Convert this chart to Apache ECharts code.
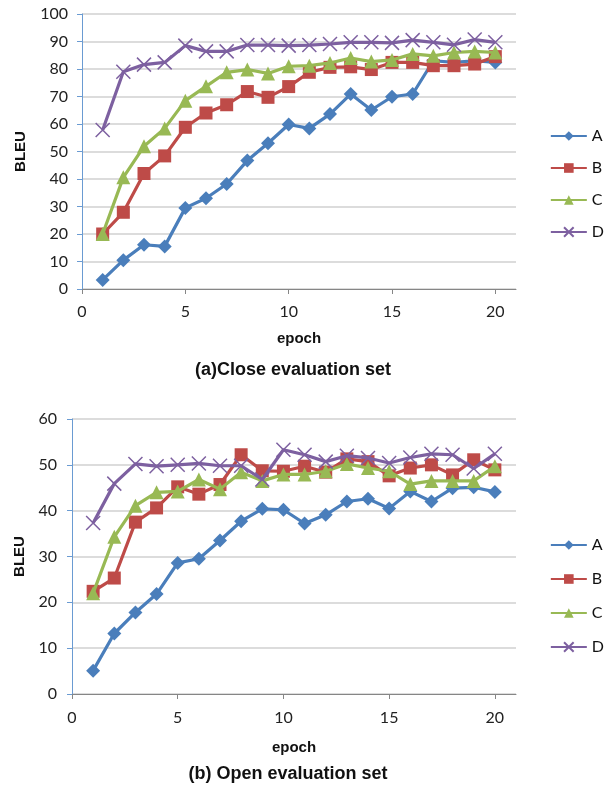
<!DOCTYPE html>
<html>
<head>
<meta charset="utf-8">
<title>BLEU per epoch</title>
<style>
  body, html, #chart {width: 613px; height: 785px; margin: 0; overflow: hidden; background: #fff;}
</style>
<script src="https://cdn.jsdelivr.net/npm/echarts@6/dist/echarts.min.js"></script>
</head>
<body>
<div id="chart"></div>
<script>
var epochs = [1,2,3,4,5,6,7,8,9,10,11,12,13,14,15,16,17,18,19,20];
var names = ['A', 'B', 'C', 'D'];

// (a) close evaluation set
var closeA = [3.3,10.5,16.1,15.5,29.5,33,38.2,46.7,53,59.8,58.4,63.6,70.9,65.1,69.9,70.9,83,82.4,83,82.4];
var closeB = [20,27.9,42,48.4,58.8,64,67,71.8,69.7,73.6,78.8,80.6,80.8,79.8,82.4,82.4,81.2,81.2,81.8,84.5];
var closeC = [20,40.6,51.9,58.4,68.5,73.7,78.8,79.8,78.4,81,81.2,82.2,84,82.7,83.3,85.5,84.8,86,86.4,86];
var closeD = [57.8,79,81.6,82.4,88.5,86.4,86.4,88.7,88.7,88.5,88.7,89.1,89.7,89.7,89.5,90.5,89.7,88.8,90.7,89.7];

// (b) open evaluation set
var openA = [5.1,13.2,17.8,21.8,28.6,29.5,33.5,37.7,40.4,40.2,37.2,39.1,42,42.6,40.5,44.2,42,44.9,45.1,44.1];
var openB = [22.4,25.3,37.5,40.6,45.2,43.6,45.7,52.2,48.7,48.6,49.7,48.4,51.3,50.7,47.6,49.3,50,47.8,51.1,48.9];
var openC = [22,34.3,41.1,44,44.2,46.8,44.7,48.4,46.5,47.9,47.9,48.6,50.2,49.3,48.6,45.8,46.5,46.5,46.5,49.7];
var openD = [37.3,45.9,50.2,49.7,50,50.3,49.8,49.8,46.8,53.3,52.2,50.7,52,51.5,50.4,51.6,52.4,52.2,49.2,52.4];

var colors = ['#4A7EBB', '#BE4B48', '#98B954', '#7D60A0'];
var symbols = ['diamond', 'rect', 'triangle', 'path://M0,0L10,10M10,0L0,10'];
var sizes = [14, 13, 14, 14];

var labelFont = {fontFamily: 'Lato', fontSize: 16, color: '#222'};
var boldFont = {fontFamily: 'Liberation Sans', fontWeight: 'bold', color: '#111'};

function pairs(ys) {
    return ys.map(function (y, i) { return [epochs[i], y]; });
}

function makeSeries(sets, idx) {
    return sets.map(function (ys, k) {
        var isCross = k === 3;
        return {
            name: names[k],
            type: 'line',
            xAxisIndex: idx,
            yAxisIndex: idx,
            data: pairs(ys),
            symbol: symbols[k],
            symbolSize: sizes[k],
            showAllSymbol: true,
            lineStyle: {color: colors[k], width: 3.2},
            itemStyle: {
                color: isCross ? 'rgba(0,0,0,0)' : colors[k],
                borderColor: colors[k],
                borderWidth: isCross ? 1.5 : 0
            },
            emphasis: {disabled: true},
            z: 2 + k
        };
    });
}

function xAxis(idx) {
    return {
        type: 'value', gridIndex: idx, min: 0, max: 21, interval: 5,
        name: 'epoch', nameLocation: 'middle', nameGap: idx === 0 ? 42 : 46,
        nameTextStyle: Object.assign({fontSize: 15}, boldFont),
        axisLine: {lineStyle: {color: '#868686', width: 1}},
        axisTick: {length: 5, lineStyle: {color: '#868686'}},
        axisLabel: Object.assign({showMaxLabel: false, margin: idx === 0 ? 15 : 16}, labelFont),
        splitLine: {show: false}
    };
}

function yAxis(idx, max, interval) {
    return {
        type: 'value', gridIndex: idx, min: 0, max: max, interval: interval,
        name: 'BLEU', nameLocation: 'middle', nameGap: idx === 0 ? 54 : 44,
        nameTextStyle: Object.assign({fontSize: 15}, boldFont),
        axisLine: {show: true, lineStyle: {color: '#6A9BD2', width: 1}},
        axisTick: {show: true, length: 5, lineStyle: {color: '#6A9BD2'}},
        axisLabel: Object.assign({margin: idx === 0 ? 14 : 15}, labelFont),
        splitLine: {lineStyle: {color: '#D0D0D0', width: 1.5}}
    };
}

function legend(idx, top, gap) {
    return {
        orient: 'vertical', right: 4, top: top, itemGap: gap,
        itemWidth: 36, itemHeight: 12,
        data: names.map(function (n) { return {name: n}; }),
        textStyle: {fontFamily: 'Lato', fontSize: 16, color: '#111'},
        selectedMode: false
    };
}

var chart = echarts.init(document.getElementById('chart'));
var seriesTop = makeSeries([closeA, closeB, closeC, closeD], 0);
var seriesBot = makeSeries([openA, openB, openC, openD], 1);

chart.setOption({
    animation: false,
    title: [
        {text: '(a)Close evaluation set', left: 288, top: 356, textAlign: 'center',
         textStyle: Object.assign({fontSize: 18}, boldFont)},
        {text: '(b) Open evaluation set', left: 283, top: 760, textAlign: 'center',
         textStyle: Object.assign({fontSize: 18}, boldFont)}
    ],
    legend: [
        Object.assign(legend(0, 123, 16), {id: 'l0'}),
        Object.assign(legend(1, 532, 18), {id: 'l1'})
    ],
    grid: [
        {left: 82, top: 14, width: 434, height: 275},
        {left: 72, top: 419, width: 444, height: 275}
    ],
    xAxis: [xAxis(0), xAxis(1)],
    yAxis: [yAxis(0, 100, 10), yAxis(1, 60, 10)],
    series: seriesTop.concat(seriesBot)
});
</script>
</body>
</html>
